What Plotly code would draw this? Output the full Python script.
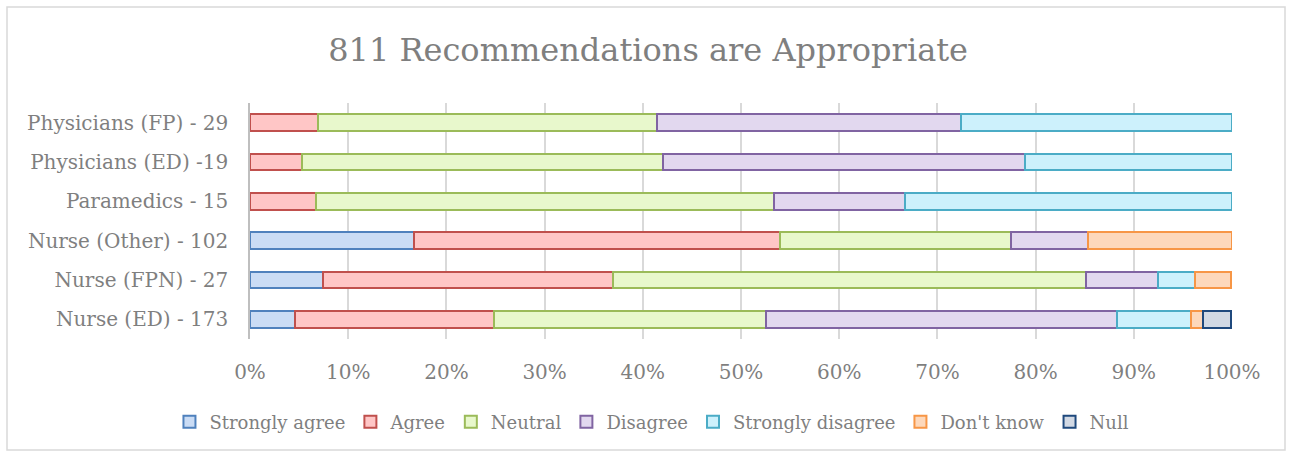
import plotly.graph_objects as go

categories = ["Nurse (ED) - 173", "Nurse (FPN) - 27", "Nurse (Other) - 102",
              "Paramedics - 15", "Physicians (ED) -19", "Physicians (FP) - 29"]

strongly_agree    = [4.6, 7.4, 16.7, 0.0, 0.0, 0.0]
agree             = [20.2, 29.6, 37.3, 6.7, 5.3, 6.9]
neutral           = [27.7, 48.1, 23.5, 46.7, 36.8, 34.5]
disagree          = [35.8, 7.4, 7.8, 13.3, 36.8, 31.0]
strongly_disagree = [7.5, 3.7, 0.0, 33.3, 21.1, 27.6]
dont_know         = [1.2, 3.7, 14.7, 0.0, 0.0, 0.0]
null              = [2.9, 0.0, 0.0, 0.0, 0.0, 0.0]

x_ticks = [0, 10, 20, 30, 40, 50, 60, 70, 80, 90, 100]
x_tick_labels = [f"{v}%" for v in x_ticks]

series = [
    ("Strongly agree", strongly_agree, "#cadcf5", "#4f81bd"),
    ("Agree", agree, "#ffc6c6", "#c0504d"),
    ("Neutral", neutral, "#e8f8cc", "#9bbb59"),
    ("Disagree", disagree, "#e2d8ef", "#8064a2"),
    ("Strongly disagree", strongly_disagree, "#cdf1fc", "#4bacc6"),
    ("Don't know", dont_know, "#fdd8bb", "#f79646"),
    ("Null", null, "#d2d9e4", "#1f497d"),
]

fig = go.Figure()
for name, vals, fill, line in series:
    fig.add_trace(go.Bar(
        y=categories, x=[v if v else None for v in vals], name=name, orientation="h",
        marker=dict(color=fill, line=dict(color=line, width=2)),
    ))

font_fam = "DejaVu Serif, Liberation Serif, serif"
txt = "#7f7f7f"
fig.update_layout(
    barmode="stack",
    bargap=0.57,
    width=1291, height=457,
    margin=dict(l=250, r=59, t=103, b=118, autoexpand=False),
    paper_bgcolor="white", plot_bgcolor="white",
    font=dict(family=font_fam, color=txt, size=20),
    title=dict(text="811 Recommendations are Appropriate", x=0.502, xanchor="center",
               y=1 - 50 / 457, yanchor="middle",
               font=dict(family=font_fam, size=32, color=txt)),
    xaxis=dict(range=[0, 100], tickvals=x_ticks, ticktext=x_tick_labels,
               showgrid=True, gridcolor="#d9d9d9", gridwidth=1.5,
               zeroline=False, showline=False, ticks="", ticklabelstandoff=19,
               automargin=False,
               tickfont=dict(size=20, color=txt)),
    yaxis=dict(categoryorder="array", categoryarray=categories,
               showline=True, linecolor="#bfbfbf", linewidth=1.5,
               ticks="", ticklabelstandoff=16, showgrid=False, automargin=False,
               tickfont=dict(size=20, color=txt)),
    legend=dict(orientation="h", xref="container", yref="container",
                x=0.505, xanchor="center", y=1 - 422 / 457, yanchor="middle",
                font=dict(size=18, color=txt), traceorder="normal",
                bgcolor="rgba(0,0,0,0)",
                itemwidth=30, tracegroupgap=0),
    showlegend=True,
    shapes=[dict(type="rect", xref="paper", yref="paper",
                 x0=(7 - 250) / 982, x1=(1285 - 250) / 982,
                 y0=(339 - 450) / 236, y1=(339 - 7) / 236,
                 line=dict(color="#d9d9d9", width=1.5), fillcolor="rgba(0,0,0,0)",
                 layer="below")],
)

fig.write_html("out.html", config={"displayModeBar": False},
               post_script="document.body.style.margin='0';")
